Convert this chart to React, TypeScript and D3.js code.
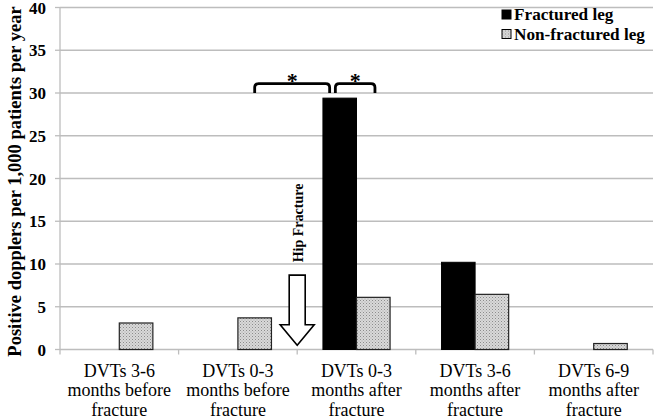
import React from 'react';
import * as d3 from 'd3';

// data
const categories = [
  'DVTs 3-6|months before|fracture',
  'DVTs 0-3|months before|fracture',
  'DVTs 0-3|months after|fracture',
  'DVTs 3-6|months after|fracture',
  'DVTs 6-9|months after|fracture',
];
const fracturedLeg = [0, 0, 29.4, 10.2, 0];
const nonFracturedLeg = [3.1, 3.7, 6.1, 6.45, 0.7];
const seriesNames = ['Fractured leg', 'Non-fractured leg'];
const yTicks = [0, 5, 10, 15, 20, 25, 30, 35, 40];

const App = () => {
  const width = 656;
  const height = 419;
  const margins = { top: 7.5, left: 60, right: 3, bottom: 69.5 };

  const xScale = d3.scaleBand()
    .domain(categories)
    .range([margins.left, width - margins.right]);
  const yScale = d3.scaleLinear()
    .domain([0, 40])
    .range([height - margins.bottom, margins.top]);

  const bw = xScale.bandwidth() * 0.283;
  const center = (c) => xScale(c) + xScale.bandwidth() / 2;
  const serif = '"Liberation Serif", "Times New Roman", serif';
  const gridColor = '#bdbdbd';

  // brackets for the significance stars
  const cAfter = categories[2];
  const cBefore = categories[1];
  const bracketTop = yScale(31.1);
  const bracketLow = yScale(30.0);
  const brackets = [
    { x0: center(cBefore) + bw * 0.5, x1: center(cAfter) - bw * 0.8 },
    { x0: center(cAfter) - bw * 0.63, x1: center(cAfter) + bw * 0.55 },
  ];
  const bracketPath = (b) => {
    const r = 4;
    return `M${b.x0},${bracketLow} L${b.x0},${bracketTop + r} Q${b.x0},${bracketTop} ${b.x0 + r},${bracketTop}
      L${b.x1 - r},${bracketTop} Q${b.x1},${bracketTop} ${b.x1},${bracketTop + r} L${b.x1},${bracketLow}`;
  };

  // hip fracture arrow sits on the boundary between categories 2 and 3
  const ax = xScale(cAfter);
  const shaftTop = yScale(8.7);
  const shaftBot = yScale(2.9);
  const tip = yScale(0.5);

  return (
    <svg width={width} height={height} style={{ position: 'absolute', left: 0, top: 0, background: '#fff' }}>
      <defs>
        <pattern id="hatch" width="3" height="3" patternUnits="userSpaceOnUse">
          <rect width="3" height="3" fill="#d9d9d9" />
          <rect width="1" height="1" fill="#8c8c8c" />
          <rect x="1.5" y="1.5" width="1" height="1" fill="#a8a8a8" />
        </pattern>
      </defs>

      {/* gridlines */}
      {yTicks.filter(t => t > 0).map(t => (
        <line key={t} x1={margins.left} x2={width - margins.right} y1={yScale(t)} y2={yScale(t)}
          stroke={gridColor} strokeWidth={1.3} />
      ))}

      {/* axes */}
      <line x1={margins.left} x2={margins.left} y1={yScale(40)} y2={yScale(0)} stroke={gridColor} strokeWidth={1.3} />
      <line x1={margins.left} x2={width - margins.right} y1={yScale(0)} y2={yScale(0)} stroke={gridColor} strokeWidth={1.3} />
      {yTicks.map(t => (
        <line key={'yt' + t} x1={margins.left - 5} x2={margins.left} y1={yScale(t)} y2={yScale(t)} stroke={gridColor} strokeWidth={1.3} />
      ))}
      {[...categories.map(c => xScale(c)), width - margins.right].map((x, i) => (
        <line key={'xt' + i} x1={x} x2={x} y1={yScale(0)} y2={yScale(0) + 5} stroke={gridColor} strokeWidth={1.3} />
      ))}

      {/* y tick labels */}
      {yTicks.map(t => (
        <text key={'yl' + t} x={margins.left - 14} y={yScale(t)} dy="0.36em" textAnchor="end"
          fontFamily={serif} fontWeight="bold" fontSize={17}>{t}</text>
      ))}

      {/* y axis title */}
      <text transform={`translate(21,${(yScale(40) + yScale(0)) / 2 + 3}) rotate(-90)`} textAnchor="middle"
        fontFamily={serif} fontWeight="bold" fontSize={18.5}>Positive dopplers per 1,000 patients per year</text>

      {/* bars */}
      {categories.map((c, i) => (
        <g key={c}>
          {fracturedLeg[i] > 0 && (
            <rect x={center(c) - bw} y={yScale(fracturedLeg[i])} width={bw}
              height={yScale(0) - yScale(fracturedLeg[i])} fill="#000" stroke="#000" strokeWidth={1} />
          )}
          {nonFracturedLeg[i] > 0 && (
            <rect x={center(c)} y={yScale(nonFracturedLeg[i])} width={bw}
              height={yScale(0) - yScale(nonFracturedLeg[i])} fill="url(#hatch)" stroke="#222" strokeWidth={1.2} />
          )}
        </g>
      ))}

      {/* category labels */}
      {categories.map(c => (
        <text key={'cl' + c} x={center(c)} y={yScale(0) + 27} textAnchor="middle" fontFamily={serif} fontSize={18}>
          {c.split('|').map((line, j) => (
            <tspan key={j} x={center(c)} dy={j === 0 ? 0 : 19.5}>{line}</tspan>
          ))}
        </text>
      ))}

      {/* significance brackets */}
      {brackets.map((b, i) => (
        <g key={'br' + i}>
          <path d={bracketPath(b)} fill="none" stroke="#000" strokeWidth={2.8} />
          <text x={(b.x0 + b.x1) / 2} y={bracketTop + 4} textAnchor="middle" fontFamily={serif}
            fontWeight="bold" fontSize={22}>*</text>
        </g>
      ))}

      {/* hip fracture arrow */}
      <text transform={`translate(${ax + 6},${yScale(14.8)}) rotate(-90)`} textAnchor="middle"
        fontFamily={serif} fontWeight="bold" fontSize={14}>Hip Fracture</text>
      <path d={`M${ax - 8},${shaftTop} L${ax + 8},${shaftTop} L${ax + 8},${shaftBot} L${ax + 17},${shaftBot}
        L${ax},${tip} L${ax - 17},${shaftBot} L${ax - 8},${shaftBot} Z`} fill="#fff" stroke="#000" strokeWidth={1.6} />

      {/* legend */}
      {seriesNames.map((name, i) => (
        <g key={name} transform={`translate(502,${20 + i * 19.5})`}>
          <rect x={0} y={-10} width={9} height={9} fill={i === 0 ? '#000' : 'url(#hatch)'} stroke="#000" strokeWidth={1} />
          <text x={12} y={0} fontFamily={serif} fontWeight="bold" fontSize={17.2}>{name}</text>
        </g>
      ))}
    </svg>
  );
};

export default App;
